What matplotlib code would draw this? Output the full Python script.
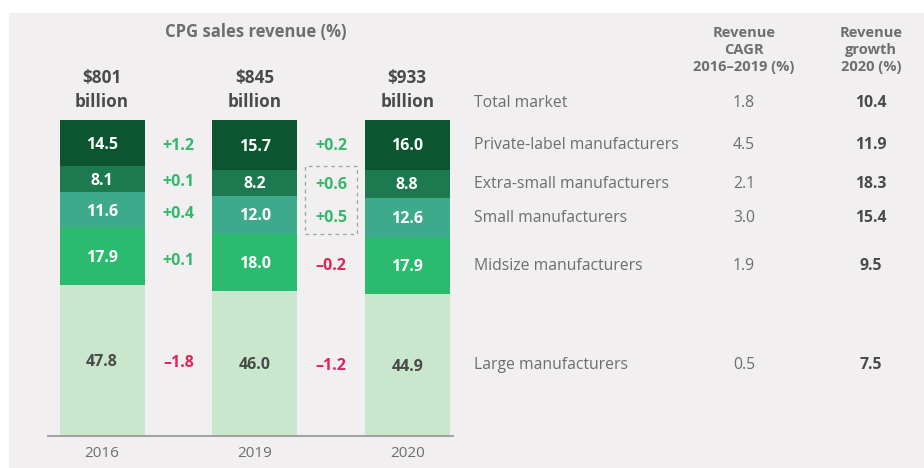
import matplotlib
matplotlib.use("Agg")
import matplotlib.pyplot as plt
from matplotlib.patches import Rectangle
from matplotlib.transforms import blended_transform_factory
import numpy as np

plt.rcParams['font.family'] = ['Open Sans', 'DejaVu Sans']

# ---- data ----
years = ["2016", "2019", "2020"]
totals = ["$801\nbillion", "$845\nbillion", "$933\nbillion"]
# segments listed from bottom (large) to top (private label)
segments = ["Large manufacturers", "Midsize manufacturers", "Small manufacturers",
            "Extra-small manufacturers", "Private-label manufacturers"]
share_2016 = [47.8, 17.9, 11.6, 8.1, 14.5]
share_2019 = [46.0, 18.0, 12.0, 8.2, 15.7]
share_2020 = [44.9, 17.9, 12.6, 8.8, 16.0]
delta_16_19 = [-1.8, 0.1, 0.4, 0.1, 1.2]
delta_19_20 = [-1.2, -0.2, 0.5, 0.6, 0.2]
cagr_16_19 = [0.5, 1.9, 3.0, 2.1, 4.5]
growth_2020 = [7.5, 9.5, 15.4, 18.3, 11.9]
total_cagr = 1.8
total_growth = 10.4

seg_colors = ["#c8e7cc", "#2bbb6f", "#3daa8b", "#1d7a50", "#0b5531"]
label_colors = ["#4a4a4a", "white", "white", "white", "white"]
pos_color = "#35b86b"
neg_color = "#e0245a"
bg = "#f1eff0"
grey_txt = "#6e6e6e"
dark_txt = "#4a4a4a"

W, H = 924, 468
fig = plt.figure(figsize=(W / 100, H / 100), dpi=100, facecolor="white")

# overlay axes in pixel coordinates for the panel and table text
ov = fig.add_axes([0, 0, 1, 1])
ov.set_xlim(0, W)
ov.set_ylim(H, 0)
ov.axis("off")
ov.add_patch(Rectangle((9, 13), W - 9, H - 13, facecolor=bg, edgecolor="none", zorder=0))

# stacked bar axes
bx0, bx1, by0, by1 = 48, 453, 120, 436
ax = fig.add_axes([bx0 / W, 1 - by1 / H, (bx1 - bx0) / W, (by1 - by0) / H])
ax.patch.set_alpha(0)
xs = np.arange(len(years))
ax.set_xlim(-0.354, 2.30)
ax.set_ylim(0, 100)
bw = 0.557

shares = [share_2016, share_2019, share_2020]
centers = []
for i, vals in enumerate(shares):
    bottom = 0.0
    cs = []
    for j, v in enumerate(vals):
        ax.bar(xs[i], v, bottom=bottom, width=bw, color=seg_colors[j], linewidth=0, zorder=2)
        c = bottom + v / 2
        cs.append(c)
        ax.text(xs[i], c - 0.5, f"{v:.1f}", ha="center", va="center", color=label_colors[j],
                fontsize=11.5, fontweight="bold", zorder=3)
        bottom += v
    centers.append(cs)

def fmt_delta(d):
    return f"+{d:.1f}" if d >= 0 else f"\u2013{abs(d):.1f}"

for k, deltas in enumerate([delta_16_19, delta_19_20]):
    for j, d in enumerate(deltas):
        y = (centers[k][j] + centers[k + 1][j]) / 2
        ax.text(xs[k] + 0.5, y - 0.5, fmt_delta(d), ha="center", va="center",
                color=pos_color if d >= 0 else neg_color, fontsize=11.5, fontweight="bold")

# dashed highlight around the small / extra-small shift 2019-2020
y_lo = (centers[1][2] + centers[2][2]) / 2 - 5.5
y_hi = (centers[1][3] + centers[2][3]) / 2 + 5.5
ax.add_patch(Rectangle((1.5 - 0.17, y_lo), 0.34, y_hi - y_lo, fill=False,
                       edgecolor="#9aa5a0", linestyle=(0, (3, 3)), linewidth=0.9))

for s in ["top", "right", "left"]:
    ax.spines[s].set_visible(False)
ax.spines["bottom"].set_color("#a0a0a0")
ax.spines["bottom"].set_linewidth(1.4)
ax.spines["bottom"].set_bounds(-0.354, 2.30)
ax.set_yticks([])
ax.set_xticks(xs)
ax.set_xticklabels(years, color=grey_txt, fontsize=11)
ax.tick_params(axis="x", length=0, pad=7)

# headers above bars
ov.text(256, 32, "CPG sales revenue (%)", ha="center", va="center", color=grey_txt,
        fontsize=12, fontweight="bold")
tr_bx = blended_transform_factory(ax.transData, ov.transData)
for i, t in enumerate(totals):
    ov.text(xs[i], 90, t, transform=tr_bx, ha="center", va="center", color=dark_txt,
            fontsize=12.3, fontweight="bold", linespacing=1.4)

# table on the right
name_x, cagr_x, growth_x = 474, 744, 871
ov.text(cagr_x, 50, "Revenue\nCAGR\n2016\u20132019 (%)", ha="center", va="center",
        color=grey_txt, fontsize=10.5, fontweight="bold", linespacing=1.3)
ov.text(growth_x, 50, "Revenue\ngrowth\n2020 (%)", ha="center", va="center",
        color=grey_txt, fontsize=10.5, fontweight="bold", linespacing=1.3)

ov.text(name_x, 103, "Total market", ha="left", va="center", color=grey_txt, fontsize=11.3)
ov.text(cagr_x, 103, f"{total_cagr:.1f}", ha="center", va="center", color=grey_txt, fontsize=11.3)
ov.text(growth_x, 103, f"{total_growth:.1f}", ha="center", va="center", color=dark_txt,
        fontsize=11.3, fontweight="bold")

tr_row = blended_transform_factory(ov.transData, ax.transData)
for j, name in enumerate(segments):
    y = centers[2][j]
    ov.text(name_x, y, name, transform=tr_row, ha="left", va="center", color=grey_txt, fontsize=11.3)
    ov.text(cagr_x, y, f"{cagr_16_19[j]:.1f}", transform=tr_row, ha="center", va="center",
            color=grey_txt, fontsize=11.3)
    ov.text(growth_x, y, f"{growth_2020[j]:.1f}", transform=tr_row, ha="center", va="center",
            color=dark_txt, fontsize=11.3, fontweight="bold")

fig.savefig("out.png", dpi=100, facecolor="white")
